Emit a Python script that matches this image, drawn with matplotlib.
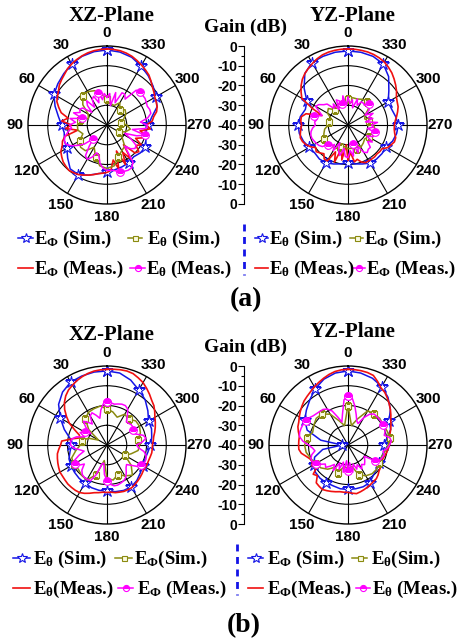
import numpy as np
import matplotlib
matplotlib.use("Agg")
import matplotlib.pyplot as plt

plt.rcParams['mathtext.fontset'] = 'custom'
plt.rcParams['mathtext.rm'] = 'Liberation Serif:bold'
plt.rcParams['mathtext.it'] = 'Liberation Serif:bold'
plt.rcParams['mathtext.bf'] = 'Liberation Serif:bold'

W, H = 459, 643
R = 79  # polar radius in px

# angles (deg), simulated curves every 10 deg, measured every 5 deg
ang_sim = np.arange(0, 360, 10)
ang_meas = np.arange(0, 360, 5)
label_angles = np.arange(0, 360, 30)
angle_labels = ['0', '30', '60', '90', '120', '150', '180', '210', '240', '270', '300', '330']
gain_ticks = np.arange(0, 90, 10)
gain_labels = ['0', '-10', '-20', '-30', '-40', '-30', '-20', '-10', '0']

# ---- (a) XZ-plane ----
a_xz_ephi_sim = [-2, -2.3, -3, -4.3, -6, -7.5, -9, -12, -15, -17,
                 -18, -17, -16.5, -14, -11, -11, -13, -15, -16, -17,
                 -17.5, -18, -19, -18, -17.5, -19, -20, -19, -17, -13,
                 -11.5, -9.5, -7.5, -5.5, -3.5, -2.5]
a_xz_ephi_meas = [-1.5, -1.6, -1.8, -2.2, -2.8, -3.5, -4.3, -5.2, -6.5, -7.5,
                  -8.5, -10, -11, -12, -14, -16, -20, -17, -22, -19,
                  -25, -18, -16, -15, -13, -12, -11, -10.5, -10, -10.5,
                  -11, -12, -13, -14, -15, -15.5, -16, -17, -22, -17,
                  -26, -18, -24, -19, -27, -20, -19, -22, -20, -24,
                  -21, -19, -23, -18, -20, -17, -16, -14, -13, -12.5,
                  -12, -11, -10, -8.5, -7, -6, -5, -4, -3, -2.3,
                  -1.8, -1.6]
a_xz_eth_sim = [-27, -24, -21.5, -20.5, -21, -24, -29, -30, -26, -25,
                -25, -27, -24, -22.5, -23, -27, -23, -19, -18, -19,
                -23, -25, -26, -30, -33, -30, -28, -30, -33, -31,
                -29, -28, -30, -27, -29.5, -29]
a_xz_eth_meas = [-26, -24, -27, -23, -28, -24, -25, -29, -24, -26,
                 -30, -25, -24, -25, -22, -27, -21, -24, -21, -22,
                 -20, -18, -17, -17, -19, -22, -25, -30, -26, -21,
                 -20, -22, -25, -24, -20, -18, -17, -17, -16.5, -15.5,
                 -15, -14.7, -15, -17, -26, -23, -21.5, -22, -26, -30,
                 -24, -20, -27, -20, -19.5, -23, -19, -17, -17, -17.5,
                 -17, -16.5, -16.5, -16.5, -17, -24, -22, -22, -28, -23,
                 -30, -24]

# ---- (a) YZ-plane ----
a_yz_eth_sim = [-2.5, -2.6, -3, -3.5, -6, -11, -16, -17, -15.5, -14.7,
                -15, -16, -17.3, -18, -17.5, -17.8, -19, -20, -21, -20,
                -19, -17.7, -17.5, -17.5, -17.8, -16, -15, -14.5, -15.5, -16.5,
                -16.5, -13, -8, -4.3, -3, -2.6]
a_yz_eth_meas = [-1.5, -1.5, -1.6, -1.8, -2.2, -3, -4, -5, -6, -7.3,
                 -9, -11, -13, -20, -26, -18, -16, -16, -16.5, -16,
                 -15.5, -15, -15.5, -16.5, -18, -20, -19, -20, -21, -19,
                 -19, -25, -20, -28, -22, -30, -22, -26, -21, -22,
                 -20, -19, -19, -19, -19, -19.3, -19, -19, -17, -16,
                 -15, -15, -16, -16.5, -16.5, -16, -15, -14, -13, -12.5,
                 -11.7, -10, -8.5, -7, -5.5, -4.3, -3.2, -2.5, -2, -1.7,
                 -1.6, -1.5]
a_yz_ephi_sim = [-27, -27, -28, -29, -30, -27, -28, -31, -30, -30,
                 -28, -27, -26, -26, -27, -26, -28, -29, -28, -28,
                 -27, -27, -28, -29, -28, -27, -26, -27, -29, -31,
                 -30, -26, -25, -25, -26, -26]
a_yz_ephi_meas = [-26, -30, -25, -29, -27, -26, -31, -27, -29, -25,
                  -24, -22, -21, -24, -26, -22, -24, -23, -23.5, -22,
                  -21, -20.5, -20.5, -21, -21.5, -22, -23, -26, -24, -28,
                  -25, -30, -26, -24, -28, -24, -23.5, -27, -24, -30,
                  -25, -28, -24, -23, -24, -24, -27, -25, -29, -26,
                  -26, -26, -30, -27, -28, -25, -31, -27, -29, -26,
                  -30, -27, -26, -25, -27, -26.5, -26.5, -29, -26, -31,
                  -27, -29]

# ---- (b) XZ-plane ----
b_xz_eth_sim = [-2.5, -2.5, -2.8, -3.2, -5, -8, -12.7, -17, -21, -22,
                -21, -19.5, -19, -18.5, -18, -17.7, -17, -16.7, -16.7, -16,
                -15.5, -15.5, -16.5, -18, -19, -19.5, -19, -18, -17, -16,
                -15.7, -13, -10, -7.8, -5, -3]
b_xz_eth_meas = [-1.7, -1.8, -2, -2.5, -3.2, -4, -5, -6, -7.5, -9.5,
                 -12, -15, -18, -22, -25, -26, -22, -17, -16.5, -15.5,
                 -14.5, -14, -13.5, -13, -12.5, -12.5, -12.3, -12, -12, -12,
                 -12.2, -13, -14, -15, -15.5, -16, -16, -16, -15.5, -15.3,
                 -15, -15, -15, -15.5, -16, -16.5, -17, -17.5, -17.5, -17.5,
                 -17.5, -17.3, -17, -17, -17, -16.5, -16, -15, -14, -13,
                 -12, -10.5, -9, -8, -6.5, -5, -3.5, -2.5, -1.5, -1.2,
                 -1.3, -1.5]
b_xz_ephi_sim = [-21.7, -20, -20.5, -21, -23, -28, -35, -30, -27, -26.5,
                 -24, -21, -20.5, -21, -20, -19.5, -24, -32, -23, -22,
                 -24, -22, -20, -24, -29.5, -27, -24, -23.5, -24, -22,
                 -21, -21, -23, -22, -25, -23]
b_xz_ephi_meas = [-18.3, -19, -22, -26, -24, -22, -23, -27, -25, -23,
                  -26, -30, -27, -25, -28, -24, -22, -21.5, -21.5, -23,
                  -26, -28, -25, -22, -21, -22, -25, -22, -20.5, -20,
                  -20, -20, -24, -30, -30.7, -25, -22, -20, -19, -19,
                  -19.5, -20, -21, -23, -25, -26, -24, -21, -20, -19,
                  -19, -19.5, -21, -24, -25, -22, -20, -21, -24, -26,
                  -25, -24, -24, -24.5, -24.7, -22, -19, -18, -18, -18.5,
                  -19, -18.5]

# ---- (b) YZ-plane ----
b_yz_ephi_sim = [-2.5, -3, -4.5, -7, -10, -12.5, -14.7, -18, -26, -37,
                 -27, -22, -20, -18.5, -18, -18, -18, -17.5, -17.5, -17.5,
                 -17.5, -18, -20, -21, -22, -22, -21.5, -22, -20, -17,
                 -16, -12, -8.5, -5.8, -4, -3]
b_yz_ephi_meas = [-1.7, -1.8, -2.2, -3, -4, -5, -6, -7, -7.8, -8.5,
                  -9.5, -10.5, -11.5, -12.5, -13, -14, -15, -15, -15, -15,
                  -16, -18, -19.5, -20, -19, -21, -17, -18, -15, -14.5,
                  -14, -14.5, -15, -15.5, -16, -16, -16, -15.5, -15, -15.5,
                  -16, -16.5, -17, -17.5, -17.7, -18.5, -19.5, -20, -20.5, -21,
                  -21, -20.5, -20, -19.5, -19, -18.5, -18.5, -18, -17, -16,
                  -15, -13.5, -12, -10.5, -9, -7.5, -6.6, -4.5, -2.5, -2,
                  -1.8, -1.7]
b_yz_eth_sim = [-20, -30, -27, -22, -19.5, -19, -20, -21, -19, -18,
                -18.5, -20, -21, -22, -24, -27, -25, -29, -28, -29,
                -24, -22, -21, -21, -22, -22, -21, -19.7, -18.5, -19,
                -19.5, -19, -19.5, -20, -26, -30]
b_yz_eth_meas = [-15, -17, -24, -28, -25, -21, -19, -18, -17.8, -17.5,
                 -17, -16, -15.5, -15, -14.8, -14.7, -15, -17, -20, -22,
                 -23, -21, -20, -20, -21, -23, -25, -24, -26, -28,
                 -25, -30, -27, -31, -26, -32, -27, -31, -26, -30,
                 -27, -29, -26, -28, -27, -28, -29, -30, -24, -22,
                 -21.5, -21, -22, -20, -19, -18, -18.5, -21, -20, -19.5,
                 -19.5, -19.5, -19.5, -19.5, -19.5, -21, -24, -28, -27, -24,
                 -20, -16]

BLUE = '#1414e6'
RED = '#f01010'
OLIVE = '#8a8a10'
MAGENTA = '#ff00ff'

star = dict(color=BLUE, lw=1.1, marker='*', ms=9, mfc='white', mec=BLUE, mew=0.8)
redl = dict(color=RED, lw=1.2)
olive = dict(color=OLIVE, lw=1.1, marker='s', ms=4.5, mfc='#fbfbe0', mec=OLIVE, mew=0.8)
mag = dict(color=MAGENTA, lw=1.1, marker='o', ms=5.5, fillstyle='top',
           mfc=MAGENTA, mfcalt='white', mec=MAGENTA, mew=0.8)

fig = plt.figure(figsize=(W / 100, H / 100), dpi=100)


def px_rect(x, y, w, h):
    return [x / W, 1 - (y + h) / H, w / W, h / H]


def closed(ang, vals):
    a = np.deg2rad(np.append(ang, 360))
    return a, np.append(vals, vals[0])


def polar_panel(cx, cy, curves):
    ax = fig.add_axes(px_rect(cx - R, cy - R, 2 * R, 2 * R), projection='polar')
    ax.set_theta_zero_location('N')
    ax.set_theta_direction(1)
    ax.set_rlim(-40, 0)
    ax.set_rticks([-30, -20, -10])
    ax.set_yticklabels([])
    ax.set_thetagrids(label_angles, labels=[''] * len(label_angles))
    ax.grid(True, color='black', lw=0.8, ls='-')
    ax.spines['polar'].set_linewidth(1.0)
    for ang, vals, style, every in curves:
        t, r = closed(ang, vals)
        ax.plot(t, r, markevery=every, **style)
    for a, lab in zip(label_angles, angle_labels):
        ax.text(np.deg2rad(a), 6.8, lab, ha='center', va='center', fontsize=11,
                fontweight='bold', family='Liberation Sans', clip_on=False)
    return ax


def gain_axis(cy):
    ga = fig.add_axes(px_rect(244, cy - R, 1, 2 * R))
    ga.set_ylim(0, 80)
    ga.set_yticks(gain_ticks)
    ga.set_yticklabels(gain_labels, fontsize=10, fontweight='bold', family='Liberation Sans')
    ga.set_yticks(np.arange(5, 80, 10), minor=True)
    ga.tick_params(axis='y', which='major', length=4, width=0.8, pad=1)
    ga.tick_params(axis='y', which='minor', length=2, width=0.8)
    ga.set_xticks([])
    for s in ['top', 'right', 'bottom']:
        ga.spines[s].set_visible(False)
    ga.spines['left'].set_linewidth(0.8)
    ga.patch.set_visible(False)


# panel (a)
polar_panel(107, 125, [(ang_sim, a_xz_ephi_sim, star, 3), (ang_meas, a_xz_ephi_meas, redl, None),
                       (ang_sim, a_xz_eth_sim, olive, 4), (ang_meas, a_xz_eth_meas, mag, (3, 12))])
polar_panel(348, 125, [(ang_sim, a_yz_eth_sim, star, 3), (ang_meas, a_yz_eth_meas, redl, None),
                       (ang_sim, a_yz_ephi_sim, olive, 4), (ang_meas, a_yz_ephi_meas, mag, (3, 12))])
gain_axis(125)

# panel (b)
polar_panel(107, 445, [(ang_sim, b_xz_eth_sim, star, 3), (ang_meas, b_xz_eth_meas, redl, None),
                       (ang_sim, b_xz_ephi_sim, olive, 4), (ang_meas, b_xz_ephi_meas, mag, 12)])
polar_panel(348, 445, [(ang_sim, b_yz_ephi_sim, star, 3), (ang_meas, b_yz_ephi_meas, redl, None),
                       (ang_sim, b_yz_eth_sim, olive, 4), (ang_meas, b_yz_eth_meas, mag, 12)])
gain_axis(445)

# overlay in pixel coordinates for titles and legends
ov = fig.add_axes([0, 0, 1, 1])
ov.set_xlim(0, W)
ov.set_ylim(H, 0)
ov.axis('off')
ov.patch.set_visible(False)

serif = dict(family='Liberation Serif', fontweight='bold')
for y0, yz_y, g_y in [(16, 16, 27), (335, 332, 347)]:
    ov.text(112, y0, 'XZ-Plane', ha='center', va='center', fontsize=15, **serif)
    ov.text(353, yz_y, 'YZ-Plane', ha='center', va='center', fontsize=15, **serif)
    ov.text(245, g_y, 'Gain (dB)', ha='center', va='center', fontsize=14, **serif)

PHI = r'E$_\mathbf{\Phi}$'
TH = r'E$_\mathbf{\theta}$'


def handle(x0, x1, y, style):
    st = {k: v for k, v in style.items()}
    if 'ms' in st:
        st['ms'] = st['ms'] * 0.8
    ov.plot([x0, (x0 + x1) / 2, x1], [y, y, y], markevery=[1], **st)


def legend_block(entries, row_y, dash_x):
    for x0, x1, tx, row, text, style in entries:
        y = row_y[row]
        handle(x0, x1, y, style)
        ov.text(tx, y + 6, text, ha='left', va='baseline', fontsize=13.5, **serif)
    ov.plot([dash_x, dash_x], [row_y[0] - 14, row_y[1] + 7], color=BLUE, lw=2, ls=(0, (2.5, 2)))


legend_block([
    (18, 33, 34, 0, PHI + ' (Sim.)', star), (128, 142, 147, 0, TH + ' (Sim.)', olive),
    (18, 33, 34, 1, PHI + ' (Meas.)', redl), (130, 145, 146, 1, TH + ' (Meas.)', mag),
    (255, 268, 269, 0, TH + ' (Sim.)', star), (350, 363, 364, 0, PHI + ' (Sim.)', olive),
    (255, 268, 269, 1, TH + ' (Meas.)', redl), (352, 365, 366, 1, PHI + ' (Meas.)', mag),
], (238, 268), 244)

legend_block([
    (13, 30, 33, 0, TH + ' (Sim.)', star), (115, 132, 134, 0, PHI + '(Sim.)', olive),
    (13, 30, 33, 1, TH + '(Meas.)', redl), (118, 133, 137, 1, PHI + ' (Meas.)', mag),
    (248, 263, 267, 0, PHI + ' (Sim.)', star), (352, 367, 371, 0, TH + '(Sim.)', olive),
    (248, 263, 267, 1, PHI + '(Meas.)', redl), (356, 370, 372, 1, TH + ' (Meas.)', mag),
], (558, 588), 237)

ov.text(246, 300, '(a)', ha='center', va='center', fontsize=20, **serif)
ov.text(244, 626, '(b)', ha='center', va='center', fontsize=20, **serif)

fig.savefig('out.png', dpi=100)
